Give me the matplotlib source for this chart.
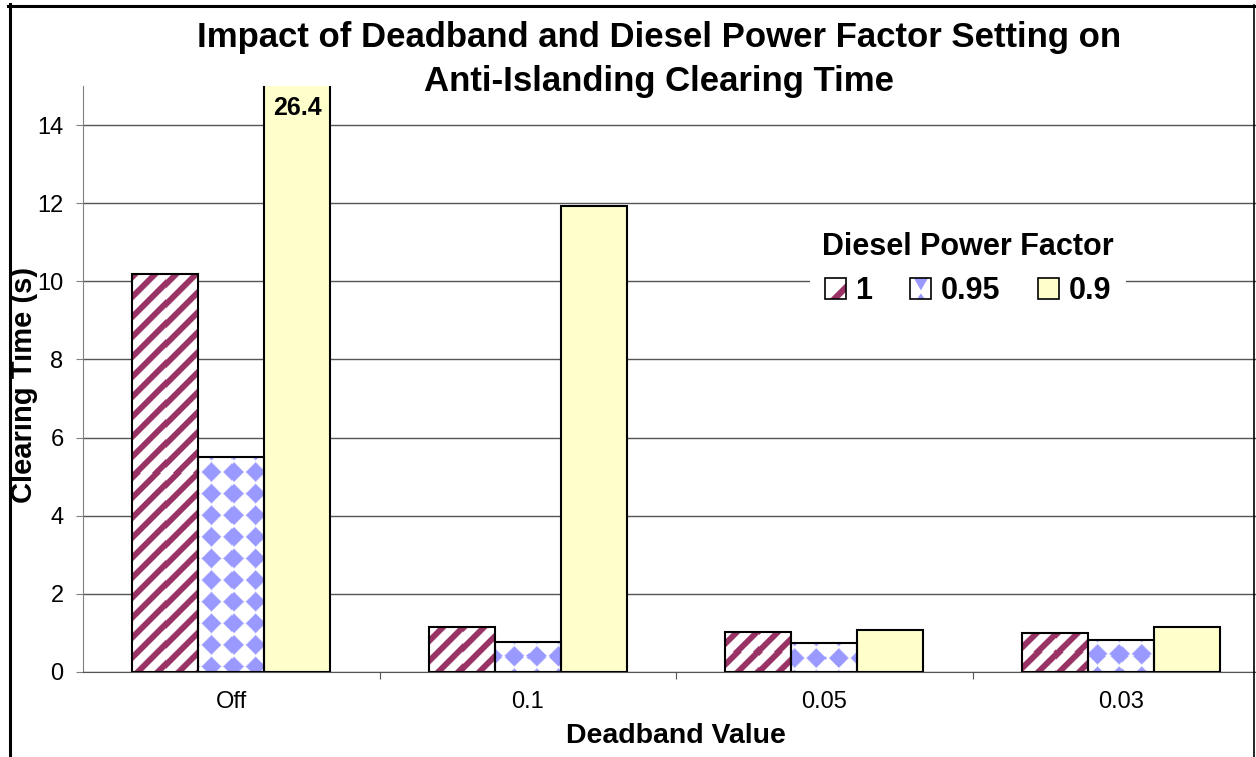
import numpy as np
import matplotlib.pyplot as plt
from matplotlib.colors import to_rgb
from matplotlib.lines import Line2D
from matplotlib.patches import Rectangle, Polygon
from matplotlib.legend_handler import HandlerBase
from matplotlib.transforms import blended_transform_factory

plt.rcParams['font.family'] = ['Liberation Sans', 'DejaVu Sans']
plt.rcParams['hatch.linewidth'] = 4.5

# ------------------------------------------------------------
# Data: clearing time [s] per deadband setting and diesel PF
# ------------------------------------------------------------
deadband = ['Off', '0.1', '0.05', '0.03']
pf_labels = ['1', '0.95', '0.9']
t_pf_100 = [10.2, 1.15, 1.03, 1.01]
t_pf_095 = [5.5, 0.78, 0.74, 0.83]
t_pf_090 = [26.4, 11.93, 1.07, 1.15]

MAROON = '#993366'
LILAC = '#9999FF'
CREAM = '#FFFFCC'
GRID = '#555555'

FIG_W, FIG_H = 1256, 757
fig = plt.figure(figsize=(FIG_W / 100, FIG_H / 100), dpi=100)
ax = fig.add_axes([83 / FIG_W, 85 / FIG_H, 1186 / FIG_W, 586 / FIG_H])

x = np.arange(len(deadband))
w = 0.2226
YMAX = 15

ax.set_xlim(-0.5, len(deadband) - 0.5)
ax.set_ylim(0, YMAX)
ax.set_autoscale_on(False)

# bar bodies (white under the patterns), outlines drawn on top later
series = [(t_pf_100, 'white', 'stripe'),
          (t_pf_095, 'white', 'diamond'),
          (t_pf_090, CREAM, None)]
bar_sets = []
for k, (vals, face, kind) in enumerate(series):
    bars = ax.bar(x + (k - 1) * w, vals, w, facecolor=face, edgecolor='none', zorder=2)
    bar_sets.append((bars, kind))


def blend(alpha, color):
    c = np.array(to_rgb(color))
    a = alpha[..., None]
    return (1 - a) * 1.0 + a * c


def texture(kind, X, Y, top):
    if kind == 'stripe':
        s = np.mod(X + Y, 20.0)
        dist = np.abs(s - 10.0)
        a = np.clip((4.2 - dist) / 1.6 + 0.5, 0, 1)
        return blend(a, MAROON)
    P = 21.6
    dx = np.mod(X - 211.7 + P / 2, P) - P / 2
    dy = np.mod(Y - (top + 15) + P / 2, P) - P / 2
    r = np.abs(dx) + np.abs(dy)
    a = np.clip((9.8 - r) / 2.0 + 0.5, 0, 1)
    return blend(a, LILAC)


# fill the patterned bars with a pixel texture
for bars, kind in bar_sets:
    if kind is None:
        continue
    for b in bars:
        x0, x1 = b.get_x(), b.get_x() + b.get_width()
        h = min(b.get_height(), YMAX)
        (px0, py0), (px1, py1) = ax.transData.transform([(x0, 0), (x1, h)])
        nx = max(1, int(round(px1 - px0)))
        ny = max(1, int(round(py1 - py0)))
        top = FIG_H - py1
        X = px0 + (np.arange(nx) + 0.5) * (px1 - px0) / nx
        Y = top + (np.arange(ny) + 0.5) * (py1 - py0) / ny
        XX, YY = np.meshgrid(X, Y)
        img = texture(kind, XX, YY, top)
        ax.imshow(img, extent=(x0, x1, 0, h), origin='upper', aspect='auto',
                  interpolation='nearest', zorder=3)

for k, (vals, face, kind) in enumerate(series):
    ax.bar(x + (k - 1) * w, vals, w, fill=False, edgecolor='black', lw=1.5, zorder=4)

ax.set_xlim(-0.5, len(deadband) - 0.5)
ax.set_ylim(0, YMAX)

# value label for the bar that runs off the scale
trans = blended_transform_factory(ax.transData, ax.transAxes)
ax.text(x[0] + w, 0.962, f'{t_pf_090[0]:.1f}', transform=trans, ha='center', va='center',
        fontsize=18, fontweight='bold', zorder=6)

# axes styling
for side in ['top', 'right']:
    ax.spines[side].set_visible(False)
ax.spines['left'].set_color('#808080')
ax.spines['bottom'].set_color(GRID)
ax.set_yticks(np.arange(0, 15, 2))
ax.yaxis.grid(True, color=GRID, lw=1)
ax.set_axisbelow(True)
ax.tick_params(axis='y', direction='out', length=5, color='#808080', labelsize=17, pad=9)

ax.set_xticks(x[:-1] + 0.5)
ax.set_xticklabels([])
ax.set_xticks(x, minor=True)
ax.set_xticklabels(deadband, minor=True)
ax.tick_params(axis='x', which='major', direction='out', length=5, color=GRID)
ax.tick_params(axis='x', which='minor', length=0, labelsize=17, pad=14)

ax.set_xlabel('Deadband Value', fontsize=20.5, fontweight='bold')
ax.xaxis.label.set_va('baseline')
ax.xaxis.set_label_coords(0.5, -0.1217)

fig.text(24 / FIG_W, 1 - 385 / FIG_H, 'Clearing Time (s)', rotation=90, ha='center', va='center',
         fontsize=21, fontweight='bold')

# two-line title, one text per line
fig.text(659 / FIG_W, 1 - 38 / FIG_H, 'Impact of Deadband and Diesel Power Factor Setting on',
         ha='center', va='center', fontsize=25, fontweight='bold')
fig.text(659 / FIG_W, 1 - 81 / FIG_H, 'Anti-Islanding Clearing Time',
         ha='center', va='center', fontsize=25, fontweight='bold')


# legend swatches with the same fill patterns as the bars
class SwatchHandler(HandlerBase):
    def __init__(self, kind):
        super().__init__()
        self.kind = kind

    def create_artists(self, legend, orig_handle, xdescent, ydescent, width, height, fontsize, trans):
        x0, y0 = -xdescent, -ydescent
        arts = []
        if self.kind == 'stripe':
            arts.append(Rectangle((x0, y0), width, height, facecolor='white', edgecolor=MAROON,
                                  hatch='/', lw=0, transform=trans))
        elif self.kind == 'diamond':
            arts.append(Rectangle((x0, y0), width, height, facecolor='white', lw=0, transform=trans))
            arts.append(Polygon([(x0 + 0.15 * width, y0 + height), (x0 + 0.85 * width, y0 + height),
                                 (x0 + 0.5 * width, y0 + 0.4 * height)],
                                facecolor=LILAC, lw=0, transform=trans))
            arts.append(Polygon([(x0 + 0.32 * width, y0), (x0 + 0.68 * width, y0),
                                 (x0 + 0.5 * width, y0 + 0.25 * height)],
                                facecolor=LILAC, lw=0, transform=trans))
        else:
            arts.append(Rectangle((x0, y0), width, height, facecolor=CREAM, lw=0, transform=trans))
        arts.append(Rectangle((x0, y0), width, height, fill=False, edgecolor='black', lw=1.2,
                              transform=trans))
        return arts


proxies = [Rectangle((0, 0), 1, 1) for _ in pf_labels]
kinds = ['stripe', 'diamond', 'plain']
leg = ax.legend(proxies, pf_labels,
                handler_map={p: SwatchHandler(k) for p, k in zip(proxies, kinds)},
                title='Diesel Power Factor', ncol=3, loc='center',
                bbox_to_anchor=(968 / FIG_W, 1 - 269 / FIG_H), bbox_transform=fig.transFigure,
                prop=dict(weight='bold', size=22), title_fontproperties=dict(weight='bold', size=22),
                handlelength=0.69, handleheight=0.69, handletextpad=0.3, columnspacing=1.24,
                labelspacing=0.45, borderpad=0.4, frameon=True, fancybox=False,
                edgecolor='none', facecolor='white', framealpha=1)
leg.set_zorder(5)

# chart border
fig.add_artist(Line2D([9.5 / FIG_W, 9.5 / FIG_W], [0, 1 - 4 / FIG_H], transform=fig.transFigure,
                      color='black', lw=2.2))
fig.add_artist(Line2D([8 / FIG_W, 1254 / FIG_W], [1 - 5.5 / FIG_H, 1 - 5.5 / FIG_H],
                      transform=fig.transFigure, color='black', lw=2.2))
fig.add_artist(Line2D([1253.5 / FIG_W, 1253.5 / FIG_W], [0, 1 - 5 / FIG_H], transform=fig.transFigure,
                      color='black', lw=1.2))

fig.savefig('out.png', dpi=100)
